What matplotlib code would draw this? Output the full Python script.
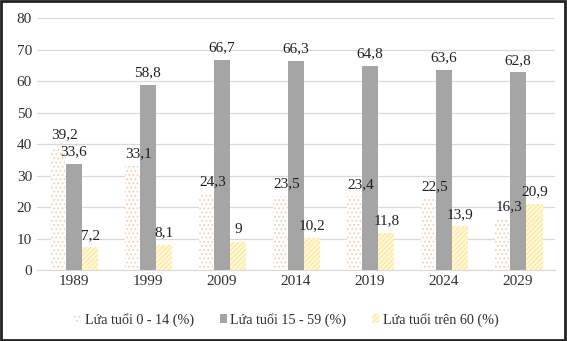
import numpy as np
import matplotlib.pyplot as plt

plt.rcParams['font.family'] = ['Liberation Serif', 'DejaVu Serif']
plt.rcParams['hatch.linewidth'] = 0.7

years = ['1989', '1999', '2009', '2014', '2019', '2024', '2029']
age_0_14 = [39.2, 33.1, 24.3, 23.5, 23.4, 22.5, 16.3]
age_15_59 = [33.6, 58.8, 66.7, 66.3, 64.8, 63.6, 62.8]
age_60 = [7.2, 8.1, 9, 10.2, 11.8, 13.9, 20.9]
labels = ['Lứa tuổi 0 - 14 (%)', 'Lứa tuổi 15 - 59 (%)', 'Lứa tuổi trên 60 (%)']


def fmt(v):
    return ('%g' % v).replace('.', ',')


def main():
    fig = plt.figure(figsize=(5.67, 3.41), dpi=100)
    ax = fig.add_axes([0.065, 0.208, 0.914, 0.739])

    x = np.arange(len(years))
    w = 0.22

    b1 = ax.bar(x - w, age_0_14, w * 0.85, color='white', edgecolor='#f6c9a8',
                hatch='....', linewidth=0, label=labels[0])
    b2 = ax.bar(x, age_15_59, w, color='#a5a5a5', linewidth=0, label=labels[1])
    b3 = ax.bar(x + w, age_60, w, color='#fff8dc', edgecolor='#ffe38a',
                hatch='///////', linewidth=0, label=labels[2])

    for bars, vals, dx in [(b1, age_0_14, 0.1), (b2, age_15_59, 0), (b3, age_60, 0)]:
        for b, v in zip(bars, vals):
            ax.annotate(fmt(v), (b.get_x() + b.get_width() / 2 + dx, v),
                        xytext=(0, 4), textcoords='offset points',
                        ha='center', va='bottom', fontsize=11, color='#202020')

    ax.set_ylim(0, 80)
    ax.set_xlim(-0.5, len(years) - 0.5)
    ax.set_yticks(range(0, 81, 10))
    ax.set_xticks(x)
    ax.set_xticklabels(years)
    ax.tick_params(length=0, labelsize=11, colors='#303030')
    ax.grid(axis='y', color='#d9d9d9', linewidth=0.9)
    ax.set_axisbelow(True)
    for s in ['top', 'right', 'left']:
        ax.spines[s].set_visible(False)
    ax.spines['bottom'].set_color('#d9d9d9')

    fig.legend(handles=[b1, b2, b3], loc='center', bbox_to_anchor=(0.505, 0.062),
               ncol=3, frameon=False, fontsize=10.2, handlelength=0.5,
               handleheight=0.6, handletextpad=0.25, columnspacing=1.8,
               labelcolor='#303030')

    fig.patches.append(plt.Rectangle((0.002, 0.003), 0.995, 0.994,
                                     transform=fig.transFigure, fill=False,
                                     edgecolor='#222222', linewidth=2))

    fig.savefig('out.png', dpi=100)


if __name__ == "__main__":
    main()
